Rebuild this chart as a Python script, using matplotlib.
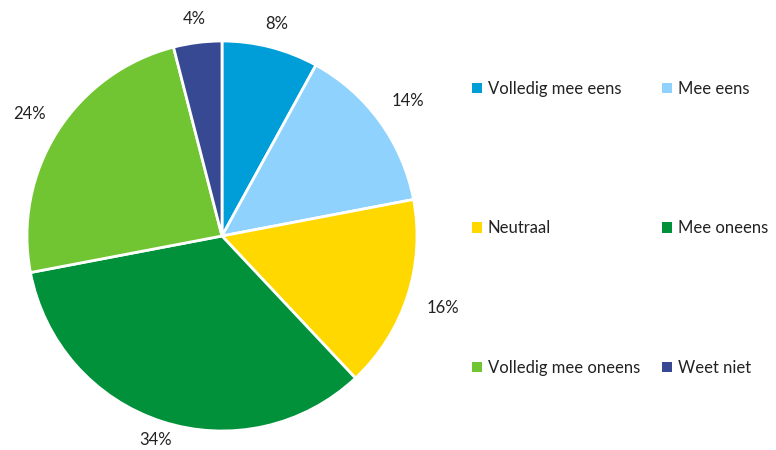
import numpy as np
import matplotlib.pyplot as plt

categories = ['Volledig mee eens', 'Mee eens', 'Neutraal', 'Mee oneens',
              'Volledig mee oneens', 'Weet niet']
percentages = [8, 14, 16, 34, 24, 4]
colors = ['#009ED8', '#8ED2FD', '#FFD800', '#00913A', '#72C532', '#374993']
# how far out each percentage sits, in pie radii
label_dist = [1.12, 1.18, 1.19, 1.10, 1.17, 1.12]

plt.rcParams['font.family'] = ['Lato', 'DejaVu Sans']

fig = plt.figure(figsize=(7.76, 4.5), dpi=100)
# pie centre at about (222, 236) px, radius about 195 px
ax = fig.add_axes([(222 - 225) / 776, (214 - 225) / 450, 450 / 776, 450 / 450])

R = 195
wedges, _ = ax.pie(percentages, colors=colors, startangle=90, counterclock=False,
                   radius=R, center=(0, 0), frame=True,
                   wedgeprops=dict(edgecolor='white', linewidth=2))
for w, p, d in zip(wedges, percentages, label_dist):
    mid = np.deg2rad((w.theta1 + w.theta2) / 2)
    ax.text(d * R * np.cos(mid), d * R * np.sin(mid), '%d%%' % p,
            ha='center', va='center', fontsize=12, color='#222222')
ax.axis('off')
ax.set_xlim(-225, 225)
ax.set_ylim(-225, 225)
ax.set_aspect('equal')

# legend filled row by row
order = [0, 2, 4, 1, 3, 5]
leg = fig.legend([wedges[i] for i in order], [categories[i] for i in order],
                 ncol=2, loc='upper left', bbox_to_anchor=(472 / 776, 1 - 81 / 450),
                 frameon=False, fontsize=12, handlelength=0.6, handleheight=0.6,
                 handletextpad=0.35, columnspacing=1.3, labelspacing=7.4,
                 borderaxespad=0, borderpad=0)
for t in leg.get_texts():
    t.set_color('#222222')
for h in leg.legend_handles:
    h.set_edgecolor('none')

fig.savefig('out.png', dpi=100)
